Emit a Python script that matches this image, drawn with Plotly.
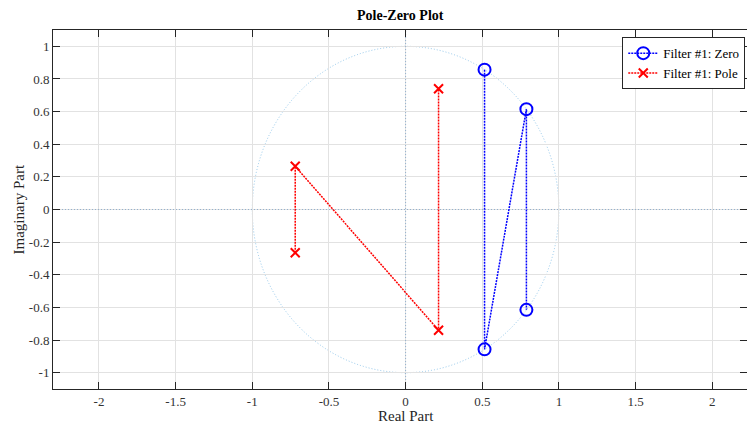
import plotly.graph_objects as go

zero_re = [0.515, 0.515, 0.788, 0.788]
zero_im = [0.857, -0.857, 0.615, -0.615]
pole_re = [-0.72, -0.72, 0.215, 0.215]
pole_im = [-0.265, 0.265, -0.74, 0.74]

x_ticks = [-2, -1.5, -1, -0.5, 0, 0.5, 1, 1.5, 2]
y_ticks = [-1, -0.8, -0.6, -0.4, -0.2, 0, 0.2, 0.4, 0.6, 0.8, 1]
x_range = [-2.30, 2.227]
y_range = [-1.10, 1.10]

FONT = "Liberation Serif"

fig = go.Figure()

# reference axes through origin (dotted)
ref_line = dict(color="rgba(120,160,200,0.75)", width=1, dash="1px,2px")
fig.add_trace(go.Scatter(x=x_range, y=[0, 0], mode="lines", line=ref_line,
                         showlegend=False, hoverinfo="skip"))
fig.add_trace(go.Scatter(x=[0, 0], y=y_range, mode="lines", line=ref_line,
                         showlegend=False, hoverinfo="skip"))

# unit circle
fig.add_shape(type="circle", xref="x", yref="y", x0=-1, y0=-1, x1=1, y1=1,
              line=dict(color="rgba(130,190,230,0.85)", width=1, dash="1px,2px"),
              layer="below")

fig.add_trace(go.Scatter(
    x=zero_re, y=zero_im, mode="lines+markers", name="Filter #1: Zero",
    line=dict(color="rgb(0,0,255)", width=1.5, dash="2px,1px"),
    marker=dict(symbol="circle-open", size=12, color="rgb(0,0,255)",
                line=dict(width=2, color="rgb(0,0,255)"))))

fig.add_trace(go.Scatter(
    x=pole_re, y=pole_im, mode="lines+markers", name="Filter #1: Pole",
    line=dict(color="rgb(255,0,0)", width=1.5, dash="2px,1px"),
    marker=dict(symbol="x-thin-open", size=9, color="rgb(255,0,0)",
                line=dict(width=2, color="rgb(255,0,0)"))))

axis_common = dict(
    showgrid=True, gridcolor="#e2e2e2", gridwidth=1,
    zeroline=False, showline=True, linecolor="#262626", linewidth=1,
    mirror="ticks", ticks="inside", ticklen=7, tickcolor="#262626", tickwidth=1.2,
    tickfont=dict(family=FONT, size=13, color="#333333"),
    automargin=False,
)

fig.update_layout(
    width=747, height=427,
    margin=dict(l=53, r=0, t=30, b=38, autoexpand=False),
    plot_bgcolor="white", paper_bgcolor="white",
    xaxis=dict(range=x_range, tickvals=x_ticks, ticktext=[f"{v:g}" for v in x_ticks],
               **axis_common),
    yaxis=dict(range=y_range, tickvals=y_ticks, ticktext=[f"{v:g}" for v in y_ticks],
               **axis_common),
    legend=dict(x=0.9975, y=0.98, xanchor="right", yanchor="top",
                bgcolor="white", bordercolor="#262626", borderwidth=1,
                font=dict(family=FONT, size=13, color="black"),
                itemwidth=30, tracegroupgap=0),
    showlegend=True,
    annotations=[
        dict(text="<b>Pole-Zero Plot</b>", xref="paper", yref="paper",
             x=0.5, y=1, yshift=15, xanchor="center", yanchor="middle",
             showarrow=False, font=dict(family=FONT, size=14, color="black")),
        dict(text="Real Part", xref="x", yref="paper", x=0, y=0, yshift=-27,
             xanchor="center", yanchor="middle", showarrow=False,
             font=dict(family=FONT, size=15, color="#262626")),
        dict(text="Imaginary Part", xref="paper", yref="y", x=0, y=0, xshift=-35,
             xanchor="center", yanchor="middle", textangle=-90, showarrow=False,
             font=dict(family=FONT, size=15, color="#262626")),
    ],
)

fig.write_html("out.html", config={"displayModeBar": False},
               post_script="document.body.style.margin='0';document.body.style.overflow='hidden';")
